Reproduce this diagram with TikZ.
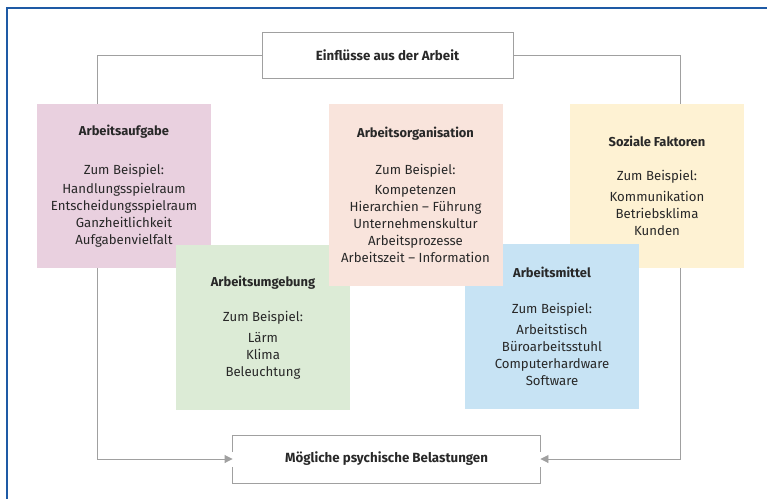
\documentclass[tikz,border=0pt]{standalone}
\usepackage{fontspec}
\setmainfont{Fira Sans}
\usetikzlibrary{arrows.meta}
\definecolor{rahmen}{RGB}{30,90,165}
\definecolor{linie}{RGB}{160,160,160}
\definecolor{schrift}{RGB}{40,40,40}
\definecolor{rosa}{RGB}{233,208,223}
\definecolor{lachs}{RGB}{249,228,220}
\definecolor{gelb}{RGB}{254,242,211}
\definecolor{gruen}{RGB}{220,235,214}
\definecolor{hellblau}{RGB}{199,227,244}
\newcommand{\kopf}[1]{{\fontsize{12.9}{17}\selectfont\bfseries #1}}
\newcommand{\bsp}{Zum Beispiel:}

\tikzset{
  feld/.style={minimum width=174pt, inner sep=0pt, align=center, text=schrift,
    font=\fontsize{13.2}{17}\selectfont},
  kasten/.style={draw=linie, line width=0.9pt, inner sep=0pt, text=schrift,
    font=\fontsize{13.3}{17}\selectfont\bfseries},
  link/.style={draw=linie, line width=0.9pt},
  pfeil/.style={link, -{Triangle[length=8pt,width=8pt]}}
}

\begin{document}
\begin{tikzpicture}[x=1pt, y=-1pt]
  \useasboundingbox (0,0) rectangle (767,498);
  \draw[rahmen, line width=2pt] (7,499) -- (7,8) -- (768,8);

  \node[kasten, minimum width=251pt, minimum height=46pt] (einfluss) at (387.5,55) {Einflüsse aus der Arbeit};
  \node[kasten, draw=none, minimum width=307pt, minimum height=47pt] (belastung) at (386.5,459) {Mögliche psychische Belastungen};
  \draw[link] ([yshift=7pt]belastung.west) -- (belastung.north west) -- (belastung.north east) -- ([yshift=7pt]belastung.east);
  \draw[link] ([yshift=-8pt]belastung.west) -- (belastung.south west) -- (belastung.south east) -- ([yshift=-8pt]belastung.east);

  \coordinate (links) at (97,55);
  \coordinate (rechts) at (680,55);
  \draw[pfeil] (einfluss.west) -- (links) |- (belastung.west);
  \draw[pfeil] (einfluss.east) -- (rechts) |- (belastung.east);

  \node[feld, fill=rosa, minimum height=164pt] (aufgabe) at (124,186)
    {\kopf{Arbeitsaufgabe}\\[22pt] \bsp\\[2pt] Handlungsspielraum\\ Entscheidungsspielraum\\ Ganzheitlichkeit\\ Aufgabenvielfalt};
  \node[feld, fill=gelb, minimum height=164pt] (sozial) at (657,186)
    {\kopf{Soziale Faktoren}\\[17pt] \bsp\\[4pt] Kommunikation\\ Betriebsklima\\ Kunden};
  \node[feld, fill=gruen, minimum height=165pt] (umgebung) at (263,327.5)
    {\kopf{Arbeitsumgebung}\\[18pt] \bsp\\[4pt] Lärm\\ Klima\\ Beleuchtung};
  \node[feld, fill=hellblau, minimum height=165pt] (mittel) at (552,326.5)
    {\kopf{Arbeitsmittel}\\[19pt] \bsp\\[4pt] Arbeitstisch\\ Büroarbeitsstuhl\\ Computerhardware\\ Software};
  \node[feld, fill=lachs, minimum height=182pt] (organisation) at (415.5,195)
    {\kopf{Arbeitsorganisation}\\[20pt] \bsp\\[3pt] Kompetenzen\\ Hierarchien -- Führung\\ Unternehmenskultur\\ Arbeitsprozesse\\ Arbeitszeit -- Information};
\end{tikzpicture}
\end{document}
